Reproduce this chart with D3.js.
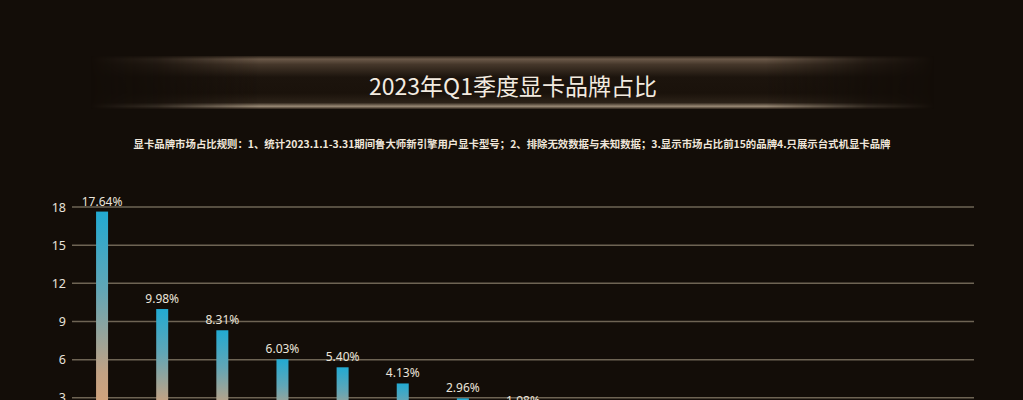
<!DOCTYPE html>
<html><head><meta charset="utf-8">
<script src="https://cdn.jsdelivr.net/npm/d3@7"></script>
<style>
html,body{margin:0;padding:0;background:#130d08;overflow:hidden}
svg{display:block}
</style></head><body>
<svg id="chart" width="1023" height="400"></svg>
<script>
const categories = ["七彩虹","华硕","微星","技嘉","影驰","铭瑄","索泰","蓝宝石","耕升","讯景","映众","迪兰","盈通","撼讯","华擎"];
const shares = [17.64, 9.98, 8.31, 6.03, 5.40, 4.13, 2.96, 1.98, 1.62, 1.35, 1.12, 0.94, 0.78, 0.62, 0.51];
const yTicks = [0, 3, 6, 9, 12, 15, 18];
const titleText = "2023年Q1季度显卡品牌占比";
const subtitleText = "显卡品牌市场占比规则：1、统计2023.1.1-3.31期间鲁大师新引擎用户显卡型号；2、排除无效数据与未知数据；3.显示市场占比前15的品牌4.只展示台式机显卡品牌";

const W = 1023, H = 400;
const svg = d3.select("#chart");
const defs = svg.append("defs");

svg.append("rect").attr("width", W).attr("height", H).attr("fill", "#130d08");

// banner
const vg = defs.append("linearGradient").attr("id","bannerV").attr("x1",0).attr("y1",0).attr("x2",0).attr("y2",1);
[[0,"#2a2017"],[0.06,"#6a5848"],[0.16,"#45372a"],[0.4,"#1c140d"],[0.7,"#1a120b"],[0.88,"#2c2218"],[0.95,"#9a8a76"],[1,"#2a2017"]]
  .forEach(([o,c])=>vg.append("stop").attr("offset",o).attr("stop-color",c));
const hg = defs.append("linearGradient").attr("id","bannerH").attr("x1",0).attr("y1",0).attr("x2",1).attr("y2",0);
[[0,0],[0.08,0.25],[0.2,1],[0.8,1],[0.92,0.25],[1,0]]
  .forEach(([o,a])=>hg.append("stop").attr("offset",o).attr("stop-color","#fff").attr("stop-opacity",a));
const mask = defs.append("mask").attr("id","bannerMask");
mask.append("rect").attr("x",90).attr("y",56).attr("width",845).attr("height",53).attr("fill","url(#bannerH)");
svg.append("rect").attr("x",90).attr("y",56).attr("width",845).attr("height",53)
  .attr("fill","url(#bannerV)").attr("mask","url(#bannerMask)");

svg.append("text").attr("x", 513).attr("y", 95).attr("text-anchor","middle")
  .attr("font-family","'Noto Sans CJK SC','Noto Sans',sans-serif").attr("font-size",23)
  .attr("fill","#f3ebe0").text(titleText);

svg.append("text").attr("x", 512).attr("y", 148).attr("text-anchor","middle")
  .attr("font-family","'Noto Sans CJK SC','Noto Sans',sans-serif").attr("font-size",10.4)
  .attr("font-weight","bold").attr("fill","#efe6da").text(subtitleText);

// plot
const x = d3.scaleBand().domain(categories).range([72, 974]).paddingInner(0).paddingOuter(0);
const y = d3.scaleLinear().domain([0, 18]).range([436, 207]);

const grid = svg.append("g");
grid.selectAll("line").data(yTicks).join("line")
  .attr("x1", 72).attr("x2", 974)
  .attr("y1", d => y(d)).attr("y2", d => y(d))
  .attr("stroke", "#6e6454").attr("stroke-width", 1.5);

const yAxis = d3.axisLeft(y).tickValues(yTicks.filter(t => y(t) < 400)).tickSize(0).tickPadding(6);
const ya = svg.append("g").attr("transform","translate(72,0)").call(yAxis);
ya.select(".domain").remove();
ya.selectAll("text").attr("font-family","'Noto Sans','DejaVu Sans',sans-serif")
  .attr("font-size",12.5).attr("fill","#e8e2da");

const bg = defs.append("linearGradient").attr("id","barGrad").attr("x1",0).attr("y1",0).attr("x2",0).attr("y2",1);
[[0,"#22aad2"],[0.35,"#62a6b6"],[0.72,"#c2a284"],[1,"#e2a474"]]
  .forEach(([o,c])=>bg.append("stop").attr("offset",o).attr("stop-color",c));

const bw = 12;
svg.append("g").selectAll("rect").data(shares).join("rect")
  .attr("x", (d,i) => x(categories[i]) + x.bandwidth()/2 - bw/2)
  .attr("y", d => y(d))
  .attr("width", bw)
  .attr("height", d => y(0) - y(d))
  .attr("fill", "url(#barGrad)");

svg.append("g").selectAll("text").data(shares.filter(d => y(d) - 6 < 407)).join("text")
  .attr("x", (d,i) => x(categories[i]) + x.bandwidth()/2)
  .attr("y", d => y(d) - 6)
  .attr("text-anchor","middle")
  .attr("font-family","'Noto Sans','DejaVu Sans',sans-serif")
  .attr("font-size",12).attr("fill","#ebe4da")
  .text(d => d.toFixed(2) + "%");
</script>
</body></html>
